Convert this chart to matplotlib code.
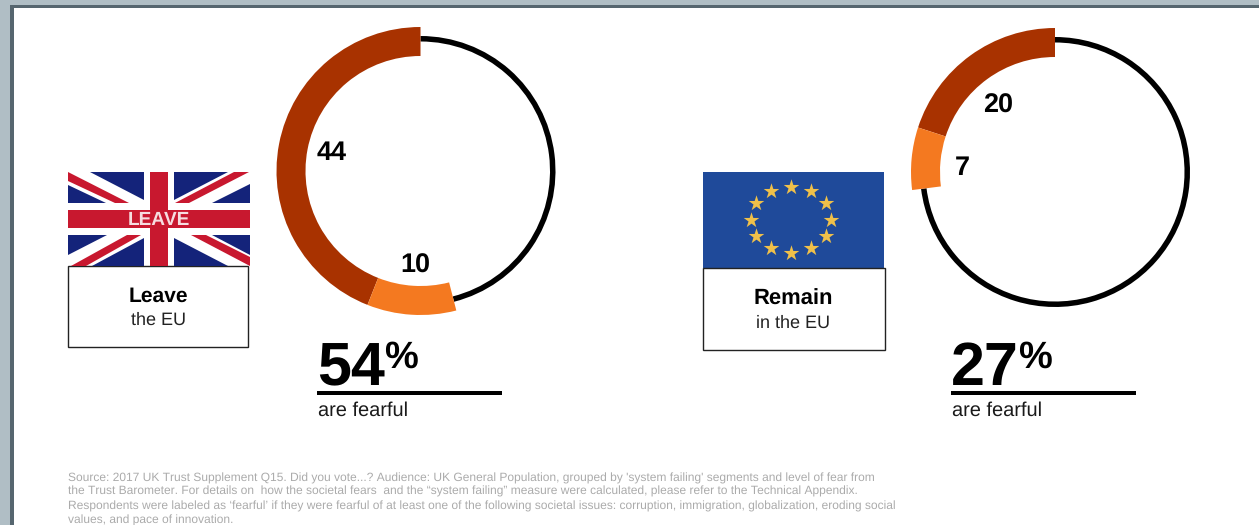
import numpy as np
import matplotlib
matplotlib.use("Agg")
import matplotlib.pyplot as plt
from matplotlib.patches import Polygon, Rectangle

plt.rcParams['font.family'] = ['Liberation Sans', 'DejaVu Sans']
plt.rcParams['text.hinting'] = 'no_hinting'
plt.rcParams['text.hinting_factor'] = 1

W, H = 1259, 525

# Share of respondents in each group who are fearful
leave_labels = ['44', '10']
leave_values = [44, 10]
remain_labels = ['20', '7']
remain_values = [20, 7]
leave_total = '54'
remain_total = '27'

DARK = '#A83200'
ORANGE = '#F47920'
NAVY = '#14237A'
RED = '#C8182F'
EU_BLUE = '#1F4A9A'
GOLD = '#EFC04A'

fig = plt.figure(figsize=(W / 100, H / 100), dpi=100, facecolor='#B0BEC5')
ax = fig.add_axes([0, 0, 1, 1])


def Y(py):
    return H - py


def poly(points, color, z=3):
    ax.add_patch(Polygon([(x, Y(y)) for x, y in points], closed=True, fc=color, ec='none', zorder=z))


def rect(x0, y0, x1, y1, fc, ec='none', lw=0, z=1):
    ax.add_patch(Rectangle((x0, Y(y1)), x1 - x0, y1 - y0, fc=fc, ec=ec, lw=lw, zorder=z))


def donut(cx, cy, values):
    remainder = 100 - sum(values)
    # thin black ring for everyone else, thick band for the fearful shares
    ax.pie([sum(values), remainder], colors=['none', 'black'], startangle=90, counterclock=True,
           center=(cx, Y(cy)), radius=135, wedgeprops=dict(width=5.5, lw=0), normalize=True)
    ax.pie(values + [remainder], colors=[DARK, ORANGE, 'none'], startangle=90, counterclock=True,
           center=(cx, Y(cy)), radius=144, wedgeprops=dict(width=29, lw=0), normalize=True)


def headline(x, y_rule, total):
    ax.text(x, Y(385), total, fontsize=44, fontweight='bold', ha='left', va='baseline', color='black')
    ax.text(x + 67, Y(368), '%', fontsize=27, fontweight='bold', ha='left', va='baseline', color='black')
    rect(x, y_rule - 2, x + 185, y_rule + 2, 'black', z=4)
    ax.text(x + 1, Y(416), 'are fearful', fontsize=14.2, ha='left', va='baseline', color='#1a1a1a')


# Slide frame
rect(10, 5, W + 5, H + 5, '#56666F', z=0)
rect(14, 8, W + 5, H + 5, 'white', z=0.5)

donut(420.5, 171, leave_values)
donut(1055, 172, remain_values)

ax.text(331.5, Y(160), leave_labels[0], fontsize=19.5, fontweight='bold', ha='center', va='baseline')
ax.text(415, Y(273), leave_labels[1], fontsize=19.5, fontweight='bold', ha='center', va='baseline')
ax.text(998.5, Y(113), remain_labels[0], fontsize=19.5, fontweight='bold', ha='center', va='baseline')
ax.text(962, Y(175), remain_labels[1], fontsize=19.5, fontweight='bold', ha='center', va='baseline')

headline(317, 393, leave_total)
headline(951, 393, remain_total)

# Union Jack
rect(68, 172, 250, 266, 'white', z=2)
for tri in [
    [(90, 172), (144, 172), (144, 200)], [(68, 185), (106, 203), (68, 203)],
    [(174, 172), (228, 172), (174, 200)], [(250, 184), (250, 203), (212, 203)],
    [(68, 235), (107, 235), (68, 255)], [(144, 238), (144, 266), (92, 266)],
    [(174, 238), (228, 266), (174, 266)], [(212, 235), (250, 235), (250, 255)],
]:
    poly(tri, NAVY)
for strip in [
    [(68, 172), (129, 203), (115, 203), (68, 181)],
    [(234, 172), (249, 172), (189, 203), (175, 203)],
    [(71, 266), (86, 266), (141, 235), (127, 235)],
    [(191, 235), (206, 235), (250, 257), (250, 266)],
]:
    poly(strip, RED)
rect(150, 172, 168, 266, RED, z=3.1)
rect(68, 210, 250, 228, RED, z=3.1)
ax.text(159, Y(225), 'LEAVE', fontsize=14, color='#F6DDE0', fontweight='bold', ha='center', va='baseline', zorder=5)

rect(68, 266, 248, 347, 'white', ec='#222222', lw=1, z=2)
ax.text(158.5, Y(302), 'Leave', fontsize=15, fontweight='bold', ha='center', va='baseline', zorder=5)
ax.text(158.5, Y(325), 'the EU', fontsize=13, ha='center', va='baseline', color='#222222', zorder=5)

# EU flag
rect(703, 172, 884, 268, EU_BLUE, z=2)
angles = np.deg2rad(np.arange(0, 360, 30))
ax.scatter(791 + 40 * np.sin(angles), Y(219.5) + 33 * np.cos(angles), marker='*', s=140, c=GOLD,
           linewidths=0, zorder=4)

rect(703, 268, 885, 350, 'white', ec='#222222', lw=1, z=2)
ax.text(793.5, Y(305), 'Remain', fontsize=15.5, fontweight='bold', ha='center', va='baseline', zorder=5)
ax.text(793.5, Y(328), 'in the EU', fontsize=13.3, ha='center', va='baseline', color='#222222', zorder=5)

# Source note
note = [
    "Source: 2017 UK Trust Supplement Q15. Did you vote...? Audience: UK General Population, grouped by 'system failing' segments and level of fear from",
    "the Trust Barometer. For details on  how the societal fears  and the \u201csystem failing\u201d measure were calculated, please refer to the Technical Appendix.",
    "Respondents were labeled as \u2018fearful\u2019 if they were fearful of at least one of the following societal issues: corruption, immigration, globalization, eroding social",
    "values, and pace of innovation.",
]
for line, py in zip(note, [482, 495, 510, 524]):
    ax.text(68, Y(py), line, fontsize=8.3, color='#ABABAB', ha='left', va='baseline', zorder=5)

ax.set_xlim(0, W)
ax.set_ylim(0, H)
ax.set_aspect('auto')
ax.axis('off')

fig.savefig('out.png', dpi=100, facecolor=fig.get_facecolor())
